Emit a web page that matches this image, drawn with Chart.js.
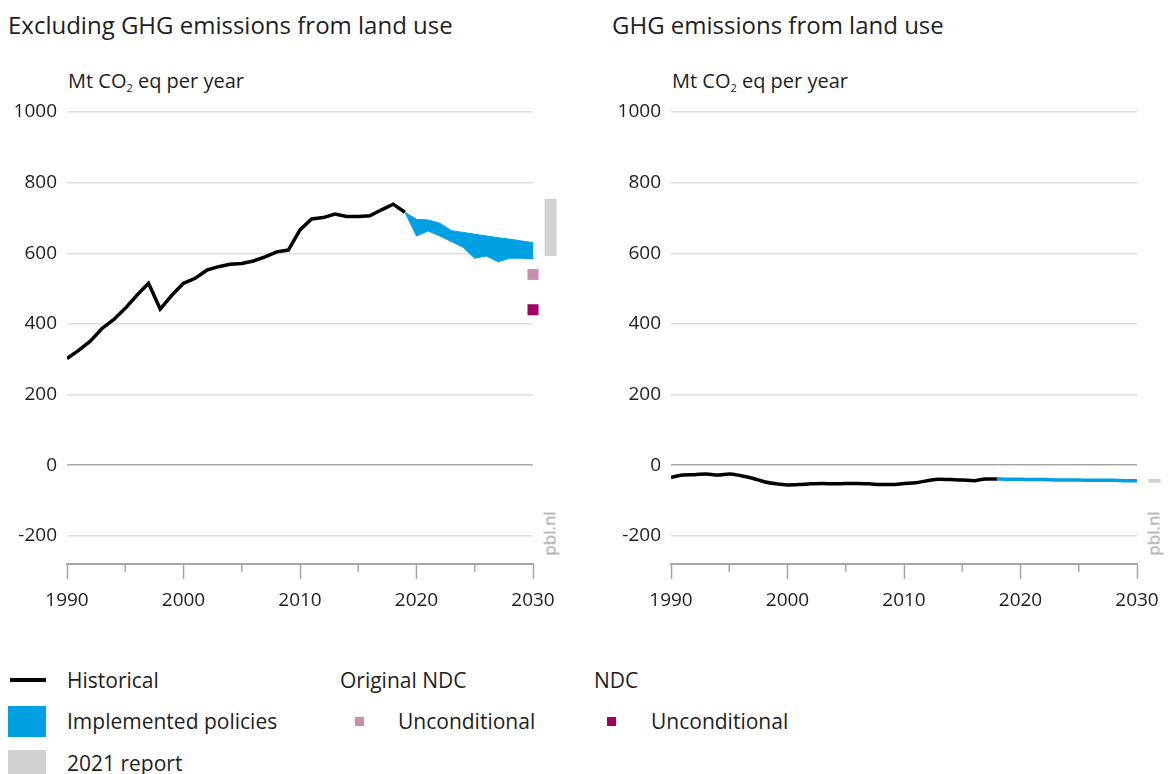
<!DOCTYPE html>
<html>
<head>
<meta charset="utf-8">
<script src="https://cdn.jsdelivr.net/npm/chart.js@4.4.1/dist/chart.umd.min.js"></script>
<style>
  html, body { margin:0; padding:0; background:#fff; }
  body { width:1168px; height:774px; position:relative; overflow:hidden; font-family:"Open Sans", sans-serif; color:#1e1e1e; }
  .abs { position:absolute; white-space:nowrap; }
  .title { font-size:24px; line-height:30px; }
  .unit { font-size:20px; line-height:24px; }
  .sub { font-size:11px; position:relative; top:4px; }
  .pbl { font-size:17px; color:#9b9b9b; transform:rotate(-90deg); transform-origin:center center; }
  .leg { font-size:21px; line-height:26px; }
  canvas { position:absolute; }
</style>
</head>
<body>
<div class="abs title" style="left:8px; top:10px;">Excluding GHG emissions from land use</div>
<div class="abs title" style="left:612px; top:10px;">GHG emissions from land use</div>
<div class="abs unit" style="left:68px; top:69px;">Mt CO<span class="sub">2</span> eq per year</div>
<div class="abs unit" style="left:672px; top:69px;">Mt CO<span class="sub">2</span> eq per year</div>

<canvas id="left" width="580" height="534" style="left:0px; top:90px;"></canvas>
<canvas id="right" width="580" height="534" style="left:604px; top:90px;"></canvas>

<div class="abs pbl" style="left:525px; top:522px; width:48px; text-align:center;">pbl.nl</div>
<div class="abs pbl" style="left:1129px; top:522px; width:48px; text-align:center;">pbl.nl</div>

<!-- legend -->
<div class="abs" style="left:10px; top:678px; width:36px; height:4px; background:#000;"></div>
<div class="abs leg" style="left:67px; top:667px;">Historical</div>
<div class="abs" style="left:8px; top:706px; width:38px; height:31px; background:#00a0e2;"></div>
<div class="abs leg" style="left:67px; top:708px;">Implemented policies</div>
<div class="abs" style="left:8px; top:750px; width:38px; height:28px; background:#d0d1d0;"></div>
<div class="abs leg" style="left:67px; top:750px;">2021 report</div>
<div class="abs leg" style="left:340px; top:667px;">Original NDC</div>
<div class="abs" style="left:355px; top:717px; width:9px; height:9px; background:#c88eb1;"></div>
<div class="abs leg" style="left:398px; top:708px;">Unconditional</div>
<div class="abs leg" style="left:594px; top:667px;">NDC</div>
<div class="abs" style="left:607px; top:717px; width:9px; height:9px; background:#a10062;"></div>
<div class="abs leg" style="left:651px; top:708px;">Unconditional</div>

<script>
// ---------- data ----------
const years = [1990,1991,1992,1993,1994,1995,1996,1997,1998,1999,2000,2001,2002,2003,2004,2005,2006,2007,2008,2009,2010,2011,2012,2013,2014,2015,2016,2017,2018,2019];
const historicalLeft = [302,325,351,387,412,444,481,515,442,481,515,529,552,562,569,571,578,590,604,609,666,697,701,711,704,704,706,723,739,716];
const policyYears = [2019,2020,2021,2022,2023,2024,2025,2026,2027,2028,2029,2030];
const policyUpperLeft = [716,696,694,685,664,659,654,649,644,640,635,630];
const policyLowerLeft = [716,649,663,649,633,617,586,592,576,586,586,584];
const ndcYear = 2030;
const originalNdcUnconditional = 540;
const ndcUnconditional = 440;
const report2021X = 2031.5;
const report2021Left = [592, 754];

const yearsRight = [1990,1991,1992,1993,1994,1995,1996,1997,1998,1999,2000,2001,2002,2003,2004,2005,2006,2007,2008,2009,2010,2011,2012,2013,2014,2015,2016,2017,2018];
const historicalRight = [-35,-28,-27,-25,-28,-25,-30,-37,-47,-53,-56,-55,-53,-52,-53,-52,-52,-53,-55,-55,-52,-50,-44,-40,-41,-42,-44,-39,-39];
const policyYearsRight = [2018,2019,2020,2021,2022,2023,2024,2025,2026,2027,2028,2029,2030];
const policyRight = [-39,-40,-40,-41,-41,-42,-42,-42,-43,-43,-43,-44,-44];
const report2021Right = [-50, -39];

const yTicks = [-200,0,200,400,600,800,1000];
const xTickLabels = [1990,2000,2010,2020,2030];

// ---------- styles ----------
const BLUE = '#00a0e2', GRAY = '#d0d1d0', PINK = '#c88eb1', MAGENTA = '#a10062';
const FONT = "'Open Sans', sans-serif";

const pts = (xs, ys) => xs.map((x, i) => ({x, y: ys[i]}));

const minorTicks = {
  id: 'minorTicks',
  afterDraw(chart) {
    const {ctx, scales:{x}, chartArea} = chart;
    ctx.save();
    ctx.strokeStyle = '#a6a6a6';
    ctx.lineWidth = 1.5;
    for (let yr = 1995; yr < 2030; yr += 10) {
      const px = x.getPixelForValue(yr);
      ctx.beginPath();
      ctx.moveTo(px, chartArea.bottom);
      ctx.lineTo(px, chartArea.bottom + 8);
      ctx.stroke();
    }
    ctx.restore();
  }
};

function baseOptions() {
  return {
    responsive: false,
    animation: false,
    devicePixelRatio: 1,
    layout: { padding: { left: 0, right: 47, top: 22, bottom: 0 } },
    plugins: { legend: { display: false }, tooltip: { enabled: false } },
    scales: {
      x: {
        type: 'linear', min: 1990, max: 2030,
        afterFit: s => { s.height = 60; },
        afterBuildTicks: s => { s.ticks = xTickLabels.map(v => ({value: v})); },
        ticks: { stepSize: 10, padding: 10, color: '#1e1e1e', font: { family: FONT, size: 19 }, callback: v => String(v), maxRotation: 0 },
        grid: { drawOnChartArea: false, drawTicks: true, tickLength: 15, tickColor: '#a6a6a6', tickWidth: 1.5 },
        border: { display: true, color: '#a6a6a6', width: 2 }
      },
      y: {
        min: -280, max: 1000,
        afterFit: s => { s.width = 67; },
        afterBuildTicks: s => { s.ticks = yTicks.map(v => ({value: v})); },
        ticks: { padding: 10, color: '#1e1e1e', font: { family: FONT, size: 19 }, callback: v => String(v) },
        grid: { drawTicks: false, lineWidth: 1.5, color: c => c.tick && c.tick.value === 0 ? '#a8a8a8' : '#dddddd' },
        border: { display: false }
      }
    }
  };
}

new Chart(document.getElementById('left'), {
  type: 'line',
  data: {
    datasets: [
      { label: 'lower', data: pts(policyYears, policyLowerLeft), borderColor: BLUE, borderWidth: 1, pointRadius: 0, fill: false, tension: 0, order: 3 },
      { label: 'Implemented policies', data: pts(policyYears, policyUpperLeft), borderColor: BLUE, borderWidth: 1, backgroundColor: BLUE, pointRadius: 0, fill: '-1', tension: 0, order: 2 },
      { label: 'Historical', data: pts(years, historicalLeft), borderColor: '#000', borderWidth: 3.5, pointRadius: 0, fill: false, tension: 0, order: 1, borderJoinStyle: 'miter' },
      { label: '2021 report', data: pts([report2021X, report2021X], report2021Left), borderColor: GRAY, borderWidth: 12, borderCapStyle: 'butt', pointRadius: 0, fill: false, clip: false, order: 4 },
      { label: 'Original NDC', type: 'scatter', data: [{x: ndcYear, y: originalNdcUnconditional}], pointStyle: 'rect', pointRadius: 7.8, backgroundColor: PINK, borderWidth: 0, clip: false, order: 0 },
      { label: 'NDC', type: 'scatter', data: [{x: ndcYear, y: ndcUnconditional}], pointStyle: 'rect', pointRadius: 7.8, backgroundColor: MAGENTA, borderWidth: 0, clip: false, order: 0 }
    ]
  },
  options: baseOptions(),
  plugins: [minorTicks]
});

new Chart(document.getElementById('right'), {
  type: 'line',
  data: {
    datasets: [
      { label: 'Implemented policies', data: pts(policyYearsRight, policyRight), borderColor: BLUE, borderWidth: 3.5, pointRadius: 0, fill: false, tension: 0.3, order: 2 },
      { label: 'Historical', data: pts(yearsRight, historicalRight), borderColor: '#000', borderWidth: 3.5, pointRadius: 0, fill: false, cubicInterpolationMode: 'monotone', order: 1 },
      { label: '2021 report', data: pts([report2021X, report2021X], report2021Right), borderColor: GRAY, borderWidth: 12, borderCapStyle: 'butt', pointRadius: 0, fill: false, clip: false, order: 4 }
    ]
  },
  options: baseOptions(),
  plugins: [minorTicks]
});
</script>
</body>
</html>
